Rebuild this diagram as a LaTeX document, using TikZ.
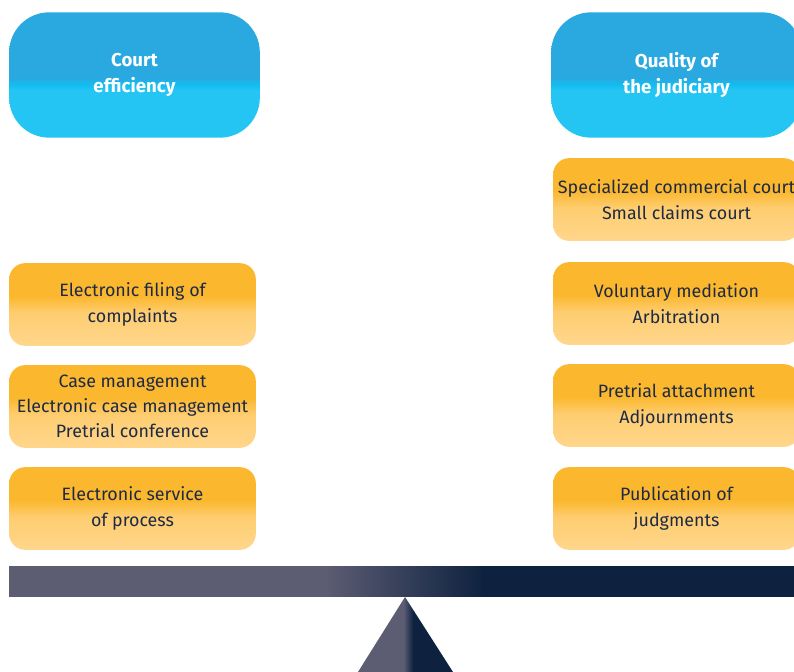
\documentclass[tikz,border=0pt]{standalone}
\usepackage{fontspec}
\setmainfont{Fira Sans}
% colours of the boxes and the beam
\definecolor{navy}{HTML}{1E2A45}
\definecolor{bluetop}{HTML}{2AA8E0}
\definecolor{bluebot}{HTML}{24C4F3}
\definecolor{blueline}{HTML}{12BEF0}
\definecolor{orangetop}{HTML}{FBB82E}
\definecolor{orangebot}{HTML}{FFD68C}
\definecolor{beamlight}{HTML}{5C5C73}
\definecolor{beamdark}{HTML}{0E223F}
\pgfdeclareverticalshading{skyfill}{100bp}{color(0bp)=(bluebot); color(25bp)=(bluebot); color(44bp)=(bluebot); color(46bp)=(blueline); color(49bp)=(bluetop); color(75bp)=(bluetop); color(100bp)=(bluetop)}
\pgfdeclareverticalshading{sunfill}{100bp}{color(0bp)=(orangebot); color(25bp)=(orangebot); color(45bp)=(orangebot!70!orangetop); color(55bp)=(orangetop); color(75bp)=(orangetop); color(100bp)=(orangetop)}
\pgfdeclarehorizontalshading{beamfill}{100bp}{color(0bp)=(beamlight); color(25bp)=(beamlight); color(45bp)=(beamlight); color(50bp)=(beamlight!50!beamdark); color(55bp)=(beamdark); color(75bp)=(beamdark); color(100bp)=(beamdark)}
\pgfdeclarehorizontalshading{pivotfill}{100bp}{color(0bp)=(beamlight); color(25bp)=(beamlight); color(49bp)=(beamlight); color(54bp)=(beamdark); color(75bp)=(beamdark); color(100bp)=(beamdark)}
\tikzset{
  goal/.style={shading=skyfill, rounded corners=30pt, minimum width=188pt,
    minimum height=94pt, text=white, font=\fontsize{14}{19}\selectfont\bfseries,
    align=center, inner sep=0pt},
  reform/.style={shading=sunfill, rounded corners=12pt, minimum width=185pt,
    minimum height=62pt, text=navy, font=\fontsize{13.4}{19}\selectfont,
    align=center, inner sep=0pt}
}
\begin{document}
\begin{tikzpicture}[x=0.75pt,y=-0.75pt]
  \clip (0,0) rectangle (794,672);
  % two goals
  \node [goal] (eff) at (134.5, 75) {Court\\efficiency};
  \node [goal] (qual) at (676.5, 75) {Quality of\\the judiciary};
  % left pan
  \node [reform] (filing) at (132.5, 304.5) {Electronic filing of\\complaints};
  \node [reform] (casemgmt) at (132.5, 406.5) {Case management\\Electronic case management\\Pretrial conference};
  \node [reform] (service) at (132.5, 508.5) {Electronic service\\of process};
  % right pan
  \node [reform] (courts) at (676.5, 199.5) {Specialized commercial court\\Small claims court};
  \node [reform] (adr) at (676.5, 303.5) {Voluntary mediation\\Arbitration};
  \node [reform] (attach) at (676.5, 405.5) {Pretrial attachment\\Adjournments};
  \node [reform] (publish) at (676.5, 508.5) {Publication of\\judgments};
  % beam and pivot
  \shade [shading=beamfill] (9, 566) rectangle (800, 596);
  \shade [shading=pivotfill] (405, 597) -- (453, 672) -- (358, 672) -- cycle;
\end{tikzpicture}
\end{document}
